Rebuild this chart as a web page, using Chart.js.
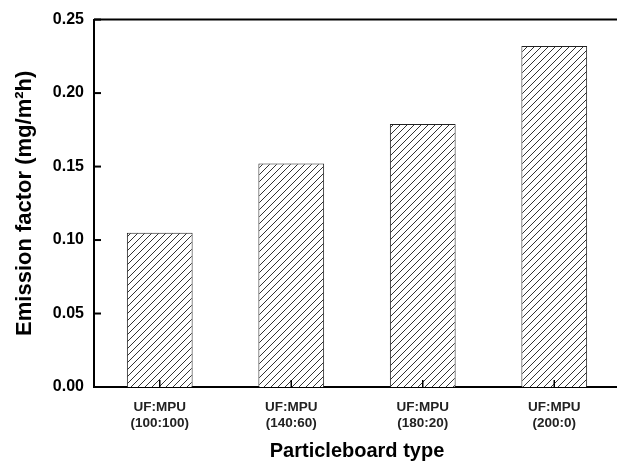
<!DOCTYPE html>
<html>
<head>
<meta charset="utf-8">
<script src="https://cdn.jsdelivr.net/npm/chart.js@4.4.0/dist/chart.umd.min.js"></script>
<style>
html,body{margin:0;padding:0;background:#fff;overflow:hidden;width:617px;height:463px;}
#wrap{width:622px;height:463px;}
</style>
</head>
<body>
<div id="wrap"><canvas id="c" width="622" height="463"></canvas></div>
<script>
const categories = [["UF:MPU","(100:100)"],["UF:MPU","(140:60)"],["UF:MPU","(180:20)"],["UF:MPU","(200:0)"]];
const emission = [0.105, 0.152, 0.179, 0.232];
const yTicks = [0, 0.05, 0.10, 0.15, 0.20, 0.25];
const xTitle = "Particleboard type";
const yTitle = "Emission factor (mg/m\u00B2h)";

function hatch(){
  const s = 7;
  const p = document.createElement('canvas');
  p.width = s; p.height = s;
  const g = p.getContext('2d');
  g.fillStyle = '#fff'; g.fillRect(0,0,s,s);
  g.strokeStyle = '#333'; g.lineWidth = 1;
  g.beginPath();
  g.moveTo(0,s); g.lineTo(s,0);
  g.moveTo(-1,1); g.lineTo(1,-1);
  g.moveTo(s-1,s+1); g.lineTo(s+1,s-1);
  g.stroke();
  return document.getElementById('c').getContext('2d').createPattern(p,'repeat');
}

const frame = {
  id:'frame',
  afterDatasetsDraw(chart){
    const ctx = chart.ctx, a = chart.chartArea;
    const y = chart.scales.y, x = chart.scales.x;
    ctx.save();
    ctx.strokeStyle = '#000';
    ctx.lineWidth = 2;
    ctx.beginPath();
    ctx.moveTo(a.left, a.top); ctx.lineTo(a.right, a.top);
    ctx.stroke();
    yTicks.forEach(v=>{
      const py = y.getPixelForValue(v);
      ctx.beginPath(); ctx.moveTo(a.left, py); ctx.lineTo(a.left+7, py); ctx.stroke();
    });
    ctx.lineWidth = 1.5;
    categories.forEach((c,i)=>{
      const px = x.getPixelForValue(i);
      ctx.beginPath(); ctx.moveTo(px, a.bottom); ctx.lineTo(px, a.bottom-7); ctx.stroke();
    });
    ctx.restore();
  }
};

new Chart(document.getElementById('c'), {
  type:'bar',
  data:{
    labels: categories,
    datasets:[{
      data: emission,
      backgroundColor: hatch(),
      borderColor:'#222',
      borderWidth:1,
      barPercentage:0.5,
      categoryPercentage:1.0
    }]
  },
  options:{
    responsive:false,
    animation:false,
    devicePixelRatio:1,
    layout:{padding:{left:0,right:2,top:13,bottom:0}},
    plugins:{legend:{display:false},tooltip:{enabled:false}},
    scales:{
      x:{
        grid:{display:false, drawTicks:false},
        border:{display:true,color:'#000',width:2},
        ticks:{color:'#222',font:{family:'Arial, "Liberation Sans"',size:13.5,weight:'bold',lineHeight:1.22},padding:12,maxRotation:0,autoSkip:false},
        title:{display:true,text:xTitle,color:'#000',font:{family:'Arial, "Liberation Sans"',size:20,weight:'bold'},padding:{top:0,bottom:0}},
        afterFit(s){ s.height = 76; }
      },
      y:{
        min:0,max:0.25,
        afterBuildTicks(s){ s.ticks = yTicks.map(v=>({value:v})); },
        grid:{display:false, drawTicks:false},
        border:{display:true,color:'#000',width:2},
        ticks:{color:'#000',font:{family:'Arial, "Liberation Sans"',size:16,weight:'bold'},padding:10,callback:v=>v.toFixed(2)},
        title:{display:true,text:yTitle,color:'#000',font:{family:'Arial, "Liberation Sans"',size:22,weight:'bold'},padding:{top:12,bottom:0}},
        afterFit(s){ s.width = 94; }
      }
    }
  },
  plugins:[frame]
});
</script>
</body>
</html>
